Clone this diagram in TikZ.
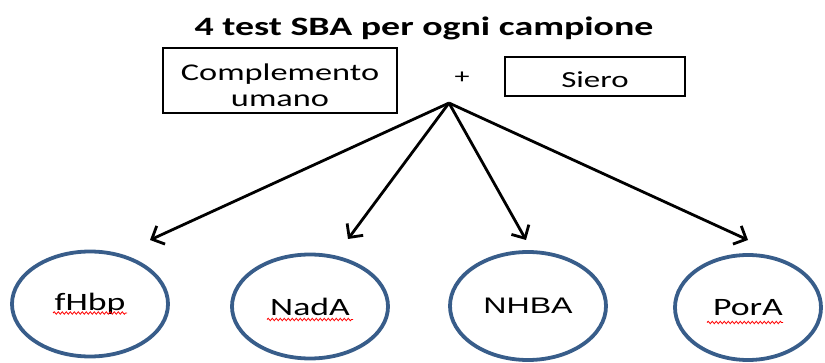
\documentclass[tikz,border=0pt]{standalone}
\usepackage{fontspec}
\setmainfont{Carlito}
\newfontfamily\arialfont{Liberation Sans}
\usepackage{graphicx}
\usepackage{xcolor}
\usetikzlibrary{arrows.meta,shapes.geometric,decorations.pathmorphing}

\definecolor{ringblue}{RGB}{56,93,138}
\newcommand{\wide}[1]{\scalebox{1.43}[1]{#1}}

\begin{document}
\begin{tikzpicture}[x=1pt,y=-1pt,
  box/.style={draw,line width=1.6pt,inner sep=0pt,align=center},
  ring/.style={ellipse,draw=ringblue,line width=3.8pt,inner sep=0pt},
  arr/.style={-{Straight Barb[length=10pt,width=20pt]},line width=2.8pt},
  spell/.style={red,line width=0.8pt,decorate,decoration={snake,amplitude=1.2pt,segment length=4pt}},
  txt/.style={font=\fontsize{25}{25}\selectfont}]

\useasboundingbox (0,0) rectangle (825,363);

% titolo
\node[anchor=base,font=\bfseries\fontsize{26.5}{30}\selectfont] (title) at (424,36) {\wide{4 test SBA per ogni campione}};

% reagenti
\node[box,font=\fontsize{24}{25.5}\selectfont,minimum width=234pt,minimum height=65pt] (compl) at (280,80.5) {\rule{0pt}{26pt}\wide{Complemento}\\\wide{umano}};
\node[font=\fontsize{21}{21}\selectfont] (plus) at (462,78) {\wide{+}};
\node[box,font=\fontsize{23}{23}\selectfont,minimum width=180pt,minimum height=39pt] (siero) at (595,76.5) {\rule{0pt}{22pt}\wide{Siero}};

\coordinate (hub) at (449,103);
\coordinate (t1) at (150,240);
\coordinate (t2) at (348,239);
\coordinate (t3) at (526,240);
\coordinate (t4) at (748,240);

\draw[arr] (hub) -- (t1);
\draw[arr] (hub) -- (t2);
\draw[arr] (hub) -- (t3);
\draw[arr] (hub) -- (t4);

% antigeni
\node[ring,txt,minimum width=156pt,minimum height=105pt] (fhbp) at (90,304) {\wide{fHbp}};
\node[ring,txt,minimum width=156pt,minimum height=104pt] (nada) at (310,306.5) {\wide{NadA}};
\node[ring,font=\arialfont\fontsize{22.5}{22.5}\selectfont,minimum width=156pt,minimum height=108pt] (nhba) at (528,306) {\wide{NHBA}};
\node[ring,txt,minimum width=146pt,minimum height=105pt] (pora) at (748,307.5) {\wide{PorA}};

\draw[spell] ([xshift=-37pt,yshift=-9pt]fhbp.center) -- ([xshift=37pt,yshift=-9pt]fhbp.center);
\draw[spell] ([xshift=-43pt,yshift=-13pt]nada.center) -- ([xshift=43pt,yshift=-13pt]nada.center);
\draw[spell] ([xshift=-41pt,yshift=-15pt]pora.center) -- ([xshift=35pt,yshift=-15pt]pora.center);

\end{tikzpicture}
\end{document}
